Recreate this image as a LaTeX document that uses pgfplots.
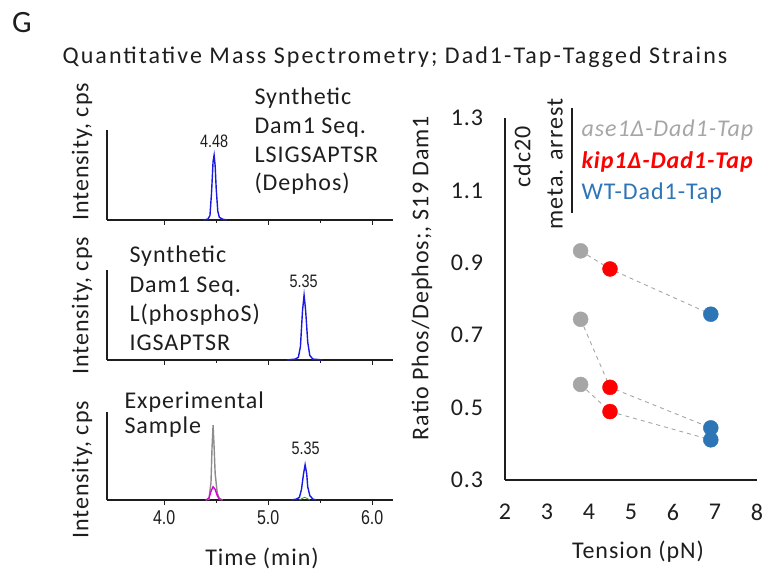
\documentclass[border=0pt]{standalone}
\usepackage{fontspec}
\setmainfont{Carlito}
\newfontfamily\calfont{Carlito}[LetterSpace=4]
\newfontfamily\titlefont{Carlito}[LetterSpace=8.5]
\newfontfamily\narrowfont{Liberation Sans}[FakeStretch=0.8]
\usepackage{pgfplots}
\pgfplotsset{compat=1.18}
\definecolor{pgray}{RGB}{166,166,166}
\definecolor{pred}{RGB}{255,0,0}
\definecolor{pblue}{RGB}{46,117,182}
\definecolor{cblue}{RGB}{25,25,225}
\definecolor{cmag}{RGB}{215,0,215}
\definecolor{cgreen}{RGB}{40,150,40}
\definecolor{cgray}{RGB}{140,140,140}
\definecolor{txt}{RGB}{30,30,30}
\newcommand{\bodyf}{\calfont\fontsize{24}{28}\selectfont}
\pgfplotsset{
  chrom/.style={scale only axis, width=286pt, xmin=3.45, xmax=6.2, ymin=0, ymax=1,
    axis lines*=left, ytick=\empty, xtick={4,5,6}, minor xtick={4.5,5.5},
    tick align=outside, major tick length=5pt, minor tick length=3pt,
    xticklabels={}, axis line style={txt, line width=1.1pt},
    tick style={txt, line width=0.9pt}, clip=false,
    every axis plot/.append style={line width=1.4pt}},
}
\begin{document}
\begin{tikzpicture}
\path[use as bounding box] (0pt,0pt) rectangle (766pt,571pt);
\node[anchor=center, font=\fontsize{31}{34}\selectfont, txt] at (22pt,548pt) {G};
\node[anchor=center, font=\titlefont\fontsize{24}{28}\selectfont, txt] at (395pt,514pt) {Quantitative Mass Spectrometry; Dad1-Tap-Tagged Strains};

% Panel 1
\begin{axis}[chrom, height=90pt, at={(107pt,351pt)}, anchor=south west]
\addplot[cblue] coordinates {(4.38,0)(4.42,0.01)(4.44,0.05)(4.455,0.3)(4.47,0.65)(4.48,0.72)(4.49,0.6)(4.50,0.35)(4.515,0.1)(4.53,0.03)(4.56,0.01)(4.60,0)};
\node[font=\narrowfont\fontsize{18}{20}\selectfont, txt] at (axis cs:4.48,0.87) {4.48};
\end{axis}
% Panel 2
\begin{axis}[chrom, height=90pt, at={(107pt,211pt)}, anchor=south west]
\addplot[cblue] coordinates {(5.18,0)(5.22,0.005)(5.26,0.01)(5.29,0.03)(5.31,0.15)(5.33,0.55)(5.345,0.72)(5.36,0.55)(5.38,0.2)(5.40,0.05)(5.43,0.01)(5.48,0.005)(5.52,0)};
\node[font=\narrowfont\fontsize{18}{20}\selectfont, txt] at (axis cs:5.34,0.87) {5.35};
\end{axis}
% Panel 3
\begin{axis}[chrom, height=88pt, at={(107pt,71pt)}, anchor=south west,
  xticklabels={4.0,5.0,6.0},
  xticklabel style={font=\narrowfont\fontsize{20}{22}\selectfont, txt, anchor=center, yshift=-13pt}]
\addplot[cgray] coordinates {(4.40,0)(4.43,0.01)(4.45,0.2)(4.46,0.6)(4.47,0.85)(4.48,0.6)(4.49,0.3)(4.51,0.08)(4.53,0.02)(4.56,0)};
\addplot[cmag] coordinates {(4.40,0)(4.43,0.02)(4.45,0.1)(4.47,0.15)(4.49,0.12)(4.51,0.05)(4.53,0.01)(4.56,0)};
\addplot[cblue] coordinates {(5.22,0)(5.27,0.01)(5.30,0.03)(5.32,0.12)(5.34,0.3)(5.355,0.4)(5.37,0.3)(5.38,0.15)(5.40,0.05)(5.43,0.01)(5.46,0)};
\addplot[cgreen, line width=0.8pt] coordinates {(5.30,0)(5.33,0.02)(5.35,0.03)(5.37,0.02)(5.40,0)};
\node[font=\narrowfont\fontsize{18}{20}\selectfont, txt] at (axis cs:5.36,0.59) {5.35};
\end{axis}

% left texts
\begin{scope}[every node/.style={font=\bodyf, txt, anchor=base west}]
\node at (251pt,466pt) {Synthetic};
\node at (251pt,437pt) {Dam1 Seq.};
\node at (251pt,408pt) {LSIGSAPTSR};
\node at (251pt,380pt) {(Dephos)};
\node at (126pt,308pt) {Synthetic};
\node at (126pt,278pt) {Dam1 Seq.};
\node at (126pt,249pt) {L(phosphoS)};
\node at (126pt,220pt) {IGSAPTSR};
\node at (121pt,163pt) {Experimental};
\node at (121pt,138pt) {Sample};
\end{scope}
\begin{scope}[every node/.style={font=\bodyf, txt, rotate=90, anchor=center}]
\node at (82pt,419pt) {Intensity, cps};
\node at (82pt,265pt) {Intensity, cps};
\node at (82pt,101pt) {Intensity, cps};
\end{scope}
\node[font=\bodyf, txt] at (262pt,13pt) {Time (min)};

% Right plot
\begin{axis}[scale only axis, width=252pt, height=362pt, at={(505pt,91pt)}, anchor=south west,
  xmin=2, xmax=8, ymin=0.3, ymax=1.3, axis lines*=left, clip=false,
  xtick={2,3,4,5,6,7,8}, xticklabels={2,3,4,5,6,7,8},
  ytick={0.3,0.5,0.7,0.9,1.1,1.3}, yticklabels={0.3,0.5,0.7,0.9,1.1,1.3},
  major tick length=0pt, axis line style={txt, line width=1.1pt},
  xticklabel style={font=\bodyf, txt, anchor=center, yshift=-32pt},
  yticklabel style={font=\bodyf, txt, anchor=center, xshift=-38pt}]
\addplot[pgray, line width=0.9pt, dash pattern=on 4pt off 4pt] coordinates {(3.8,0.933)(4.5,0.883)(6.9,0.758)};
\addplot[pgray, line width=0.9pt, dash pattern=on 4pt off 4pt] coordinates {(3.8,0.744)(4.5,0.556)(6.9,0.444)};
\addplot[pgray, line width=0.9pt, dash pattern=on 4pt off 4pt] coordinates {(3.8,0.564)(4.5,0.489)(6.9,0.411)};
\addplot[only marks, mark=*, mark size=7.5pt, pgray, mark options={draw=pgray, fill=pgray}] coordinates {(3.8,0.933)(3.8,0.744)(3.8,0.564)};
\addplot[only marks, mark=*, mark size=7.5pt, pred, mark options={draw=pred, fill=pred}] coordinates {(4.5,0.883)(4.5,0.556)(4.5,0.489)};
\addplot[only marks, mark=*, mark size=7.5pt, pblue, mark options={draw=pblue, fill=pblue}] coordinates {(6.9,0.758)(6.9,0.444)(6.9,0.411)};
\end{axis}
\node[font=\bodyf, txt, rotate=90] at (422pt,293pt) {Ratio Phos/Dephos;, S19 Dam1};
\node[font=\bodyf, txt] at (638pt,19pt) {Tension (pN)};
\node[font=\bodyf, txt, rotate=90] at (522pt,414pt) {cdc20};
\node[font=\bodyf, txt, rotate=90] at (555pt,407pt) {meta. arrest};
\draw[txt, line width=1.1pt] (572pt,463pt) -- (572pt,358pt);
\begin{scope}[every node/.style={font=\bodyf, anchor=west}]
\node[pgray] at (578pt,441pt) {\itshape ase1Δ-Dad1-Tap};
\node[pred] at (578pt,409pt) {\bfseries\itshape kip1Δ-Dad1-Tap};
\node[pblue] at (578pt,378pt) {WT-Dad1-Tap};
\end{scope}
\end{tikzpicture}
\end{document}
